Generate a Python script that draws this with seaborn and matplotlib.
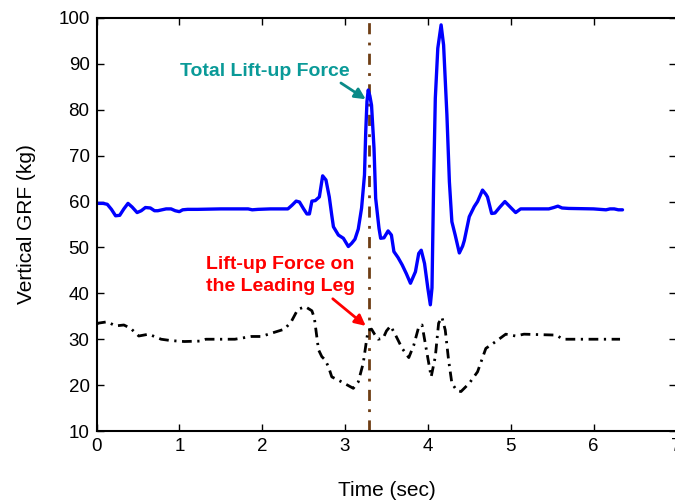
import numpy as np
import pandas as pd
import matplotlib
matplotlib.use("Agg")
import matplotlib.pyplot as plt
import seaborn as sns

# ---- data ----
total_t = [0.00, 0.08, 0.13, 0.18, 0.23, 0.28, 0.33, 0.38, 0.43, 0.49, 0.54, 0.59, 0.65, 0.70,
           0.74, 0.79, 0.84, 0.90, 0.95, 1.00, 1.04, 1.10, 1.22, 1.50, 1.83, 1.88, 1.95, 2.10,
           2.31, 2.36, 2.41, 2.45, 2.50, 2.54, 2.57, 2.60, 2.64, 2.69, 2.73, 2.77, 2.81, 2.84,
           2.86, 2.92, 2.98, 3.04, 3.08, 3.12, 3.16, 3.20, 3.235, 3.25, 3.265, 3.28, 3.30, 3.32,
           3.35, 3.37, 3.41, 3.43, 3.47, 3.52, 3.56, 3.59, 3.64, 3.69, 3.74, 3.79, 3.85, 3.89,
           3.92, 3.96, 4.00, 4.03, 4.05, 4.07, 4.09, 4.12, 4.16, 4.19, 4.23, 4.26, 4.29, 4.33,
           4.38, 4.42, 4.44, 4.50, 4.56, 4.60, 4.66, 4.70, 4.72, 4.77, 4.81, 4.87, 4.93, 5.00,
           5.06, 5.12, 5.30, 5.46, 5.52, 5.57, 5.62, 5.70, 6.00, 6.15, 6.20, 6.25, 6.30, 6.35]
total_force = [59.6, 59.6, 59.4, 58.3, 56.9, 57.0, 58.4, 59.6, 58.8, 57.6, 58.0, 58.7, 58.6, 58.0,
               58.0, 58.2, 58.4, 58.4, 58.0, 57.8, 58.2, 58.3, 58.3, 58.4, 58.4, 58.2, 58.3, 58.4,
               58.4, 59.2, 60.1, 59.9, 58.4, 57.3, 57.3, 60.1, 60.2, 61.0, 65.6, 64.7, 61.0, 57.0,
               54.5, 52.7, 52.0, 50.2, 50.9, 51.8, 54.0, 58.6, 65.8, 75.2, 81.8, 84.3, 83.0, 81.0,
               71.6, 60.7, 54.2, 52.0, 52.1, 53.6, 52.7, 49.1, 47.8, 46.2, 44.3, 42.2, 44.7, 48.7,
               49.4, 46.5, 41.1, 37.5, 41.2, 64.3, 82.5, 93.4, 98.5, 94.1, 78.9, 64.3, 55.6, 52.7,
               48.8, 50.3, 51.5, 56.7, 58.9, 60.0, 62.5, 61.6, 61.0, 57.4, 57.5, 58.8, 60.0, 58.7,
               57.6, 58.4, 58.4, 58.4, 58.7, 59.0, 58.6, 58.5, 58.4, 58.2, 58.4, 58.4, 58.2, 58.2]

leg_t = [0.00, 0.02, 0.13, 0.23, 0.33, 0.41, 0.51, 0.63, 0.78, 0.90, 1.06, 1.26, 1.32, 1.67,
         1.87, 1.99, 2.11, 2.27, 2.35, 2.43, 2.52, 2.60, 2.63, 2.68, 2.72, 2.76, 2.80, 2.84,
         2.96, 3.10, 3.16, 3.22, 3.26, 3.28, 3.32, 3.36, 3.40, 3.46, 3.50, 3.55, 3.61, 3.69,
         3.77, 3.83, 3.89, 3.93, 3.99, 4.04, 4.09, 4.13, 4.17, 4.21, 4.25, 4.29, 4.35, 4.40,
         4.50, 4.60, 4.70, 4.82, 4.94, 5.06, 5.16, 5.55, 5.63, 6.32]
leg_force = [33.2, 33.5, 33.8, 32.9, 33.1, 32.4, 30.7, 31.1, 30.0, 29.7, 29.5, 29.6, 30.0, 30.0,
             30.6, 30.6, 31.3, 32.2, 33.8, 36.5, 37.1, 36.2, 34.6, 27.7, 26.2, 25.5, 24.0, 21.8,
             20.7, 19.3, 20.7, 24.8, 29.8, 32.0, 32.2, 31.0, 30.0, 30.2, 31.8, 32.9, 30.9, 28.0,
             26.0, 28.7, 32.7, 33.1, 26.9, 21.8, 26.2, 33.5, 34.8, 32.0, 25.5, 20.4, 18.8, 18.6,
             20.4, 22.9, 28.0, 29.5, 31.1, 30.7, 31.1, 30.9, 30.0, 30.0]

event_time = 3.29
x_ticks = [0, 1, 2, 3, 4, 5, 6, 7]
y_ticks = [10, 20, 30, 40, 50, 60, 70, 80, 90, 100]
label_total = "Total Lift-up Force"
label_leg = "Lift-up Force on\nthe Leading Leg"

# ---- style ----
sns.set_style("ticks")
plt.rcParams['font.family'] = ['Liberation Sans', 'DejaVu Sans']
plt.rcParams['text.color'] = 'black'
plt.rcParams['axes.labelcolor'] = 'black'
plt.rcParams['xtick.color'] = 'black'
plt.rcParams['ytick.color'] = 'black'

fig = plt.figure(figsize=(6.75, 5.01), dpi=100)
ax = fig.add_axes([0.1430, 0.1397, 0.859, 0.8244])

df_total = pd.DataFrame({"t": total_t, "f": total_force})
df_leg = pd.DataFrame({"t": leg_t, "f": leg_force})

sns.lineplot(data=df_total, x="t", y="f", ax=ax, color="#0000ff", linewidth=2.4,
             estimator=None, sort=False)
sns.lineplot(data=df_leg, x="t", y="f", ax=ax, color="black", linewidth=2.0,
             linestyle=(0, (3.5, 2, 0.8, 2)), estimator=None, sort=False)
ax.axvline(event_time, color="#6e3d14", linewidth=2.0, linestyle=(0, (4, 3, 1, 3)), zorder=1)

ax.set_xlim(0, 7)
ax.set_ylim(10, 100)
ax.set_xticks(x_ticks)
ax.set_yticks(y_ticks)
ax.tick_params(direction="in", top=True, right=True, length=5, width=1,
               labelsize=13.5, pad=5, colors="black")
for s in ax.spines.values():
    s.set_linewidth(1.5)
    s.set_color("black")

ax.set_xlabel("Time (sec)", fontsize=15, labelpad=19)
ax.set_ylabel("Vertical GRF (kg)", fontsize=15, labelpad=16)

ax.annotate(label_total, xy=(3.25, 82.3), xytext=(2.03, 88.4),
            ha="center", va="center", color="#0a9a98", fontsize=14, fontweight="bold",
            arrowprops=dict(arrowstyle="-|>", color="#0a8a88", lw=2, mutation_scale=16,
                            shrinkA=0, shrinkB=0, relpos=(0.92, 0.0)))
ax.annotate(label_leg, xy=(3.25, 32.9), xytext=(2.22, 43.8),
            ha="center", va="center", multialignment="center",
            color="#ff0000", fontsize=14, fontweight="bold", linespacing=1.4,
            arrowprops=dict(arrowstyle="-|>", color="#ff0000", lw=2, mutation_scale=16,
                            shrinkA=0, shrinkB=0, relpos=(0.85, -0.08)))

fig.savefig("out.png", dpi=100)
